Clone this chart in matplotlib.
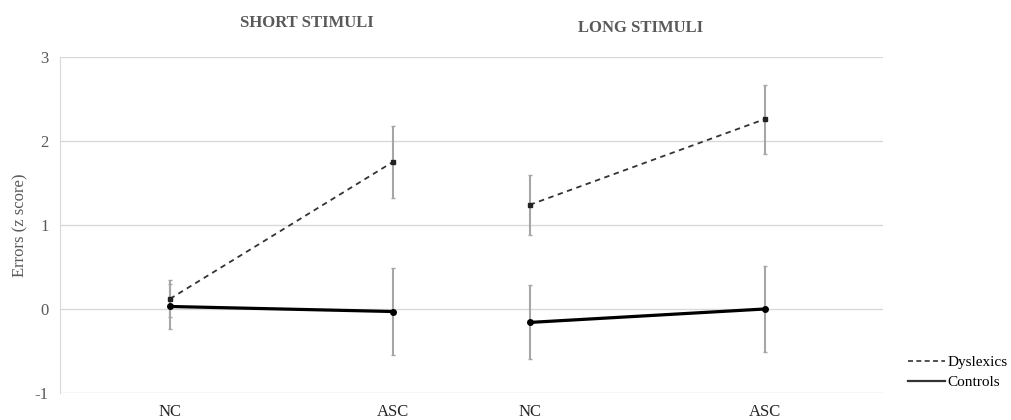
import matplotlib
matplotlib.use("Agg")
import matplotlib.pyplot as plt
from matplotlib.lines import Line2D

# data
conditions = ["NC", "ASC", "NC", "ASC"]
panels = ["SHORT STIMULI", "LONG STIMULI"]
dyslexics_mean = [0.12, 1.75, 1.24, 2.26]
dyslexics_err = [0.22, 0.43, 0.36, 0.41]
controls_mean = [0.03, -0.03, -0.16, 0.00]
controls_err = [0.27, 0.52, 0.44, 0.51]

# layout (x positions of the four conditions, two per panel)
XPOS = [0.0, 1.0, 1.614, 2.668]
TITLE_SHIFT = [0.114, -0.029]
TITLE_Y = [3.40, 3.34]
GRAY = "#595959"
plt.rcParams["font.family"] = ["Liberation Serif", "DejaVu Serif"]

fig = plt.figure(figsize=(10.11, 4.2), dpi=100)
ax = fig.add_axes([0.0593, 0.0643, 0.8137, 0.80])
ax.set_xlim(-0.493, 3.197)
ax.set_ylim(-1, 3)
ax.set_yticks([-1, 0, 1, 2, 3])
ax.set_yticklabels(["-1", "0", "1", "2", "3"], fontsize=12, color=GRAY)
ax.set_xticks(XPOS)
ax.set_xticklabels(conditions, fontsize=12, color="#262626")
ax.tick_params(length=0, pad=8)
ax.tick_params(axis="x", pad=8)
ax.grid(axis="y", color="#d9d9d9", lw=1)
ax.set_axisbelow(True)
for s in ["top", "right", "bottom"]:
    ax.spines[s].set_visible(False)
ax.spines["left"].set_color("#d9d9d9")
ax.set_ylabel("Errors (z score)", fontsize=12, color=GRAY, labelpad=5)

for p in range(2):
    xs = XPOS[2 * p:2 * p + 2]
    dm = dyslexics_mean[2 * p:2 * p + 2]; de = dyslexics_err[2 * p:2 * p + 2]
    cm = controls_mean[2 * p:2 * p + 2]; ce = controls_err[2 * p:2 * p + 2]
    ax.errorbar(xs, cm, yerr=ce, fmt="none", ecolor="#a6a6a6", elinewidth=1.5, capsize=1.5, capthick=1, zorder=2)
    ax.errorbar(xs, dm, yerr=de, fmt="none", ecolor="#a6a6a6", elinewidth=1.5, capsize=1.5, capthick=1, zorder=2)
    ax.plot(xs, dm, ls=(0, (3, 2.5)), color="#333333", lw=1.3, marker="s", ms=3, mfc="#222", mec="#222", zorder=3)
    ax.plot(xs, cm, ls="-", color="black", lw=2.3, marker="o", ms=4, zorder=3)
    ax.text(sum(xs) / 2 + TITLE_SHIFT[p], TITLE_Y[p], panels[p], ha="center", va="center",
            fontsize=12, fontweight="bold", color=GRAY, clip_on=False)

handles = [Line2D([], [], ls=(0, (3, 2)), color="#333333", lw=1.2),
           Line2D([], [], ls="-", color="#333333", lw=1.6)]
fig.legend(handles, ["Dyslexics", "Controls"], loc="lower right", bbox_to_anchor=(1.01, 0.04),
           frameon=False, fontsize=11, handlelength=2.4, handletextpad=0.15, labelspacing=0.45)

fig.savefig("out.png", dpi=100)
